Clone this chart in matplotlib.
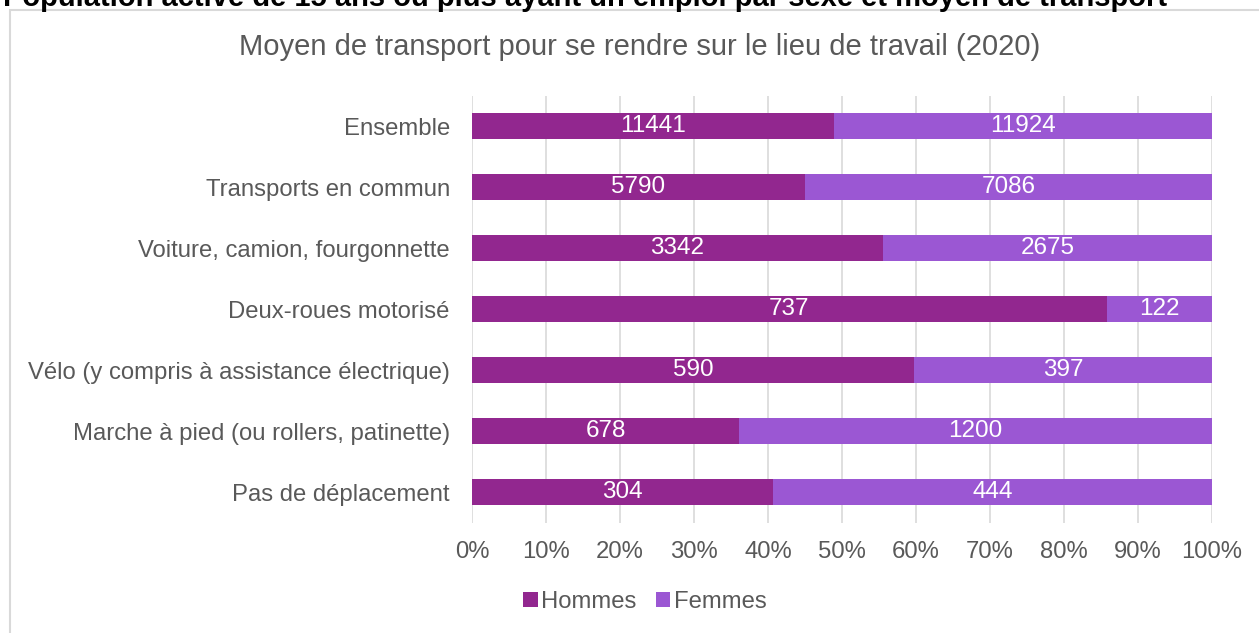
import matplotlib.pyplot as plt
from matplotlib.patches import Rectangle

plt.rcParams['font.family'] = ['Liberation Sans', 'DejaVu Sans']

categories = [
    'Ensemble',
    'Transports en commun',
    'Voiture, camion, fourgonnette',
    'Deux-roues motorisé',
    'Vélo (y compris à assistance électrique)',
    'Marche à pied (ou rollers, patinette)',
    'Pas de déplacement',
]
hommes = [11441, 5790, 3342, 737, 590, 678, 304]
femmes = [11924, 7086, 2675, 122, 397, 1200, 444]

c_hommes = '#92278F'
c_femmes = '#9B57D3'
gris = '#595959'

fig = plt.figure(figsize=(12.59, 6.33), dpi=100)

# cadre du graphique
fig.patches.append(Rectangle((10 / 1259, -0.01), 1.0, 1 - 10 / 633 + 0.01,
                             transform=fig.transFigure, fill=False,
                             edgecolor='#D9D9D9', linewidth=1.5))

fig.text(0.002, 1 - 6 / 633, 'Population active de 15 ans ou plus ayant un emploi par sexe et moyen de transport',
         fontsize=21, fontweight='bold', color='black', ha='left', va='baseline')

fig.text(640 / 1259, 1 - 47 / 633, 'Moyen de transport pour se rendre sur le lieu de travail (2020)',
         fontsize=21, color=gris, ha='center', va='center')

ax = fig.add_axes([472 / 1259, 1 - 522.5 / 633, 740 / 1259, 427 / 633])

y = list(range(len(categories)))
tot = [h + f for h, f in zip(hommes, femmes)]
p_h = [h / t for h, t in zip(hommes, tot)]
p_f = [f / t for f, t in zip(femmes, tot)]

bh = ax.barh(y, p_h, height=0.41, color=c_hommes, label='Hommes', zorder=3)
bf = ax.barh(y, p_f, left=p_h, height=0.41, color=c_femmes, label='Femmes', zorder=3)
ax.bar_label(bh, labels=[str(v) for v in hommes], label_type='center', color='white', fontsize=17.5)
ax.bar_label(bf, labels=[str(v) for v in femmes], label_type='center', color='white', fontsize=17.5)

ax.set_ylim(len(categories) - 0.5, -0.5)
ax.set_xlim(0, 1)
ax.set_yticks(y)
ax.set_yticklabels(categories)
ax.set_xticks([i / 10 for i in range(11)])
ax.set_xticklabels([f'{i * 10}%' for i in range(11)])
ax.tick_params(axis='both', length=0, labelsize=17.2, labelcolor=gris)
ax.tick_params(axis='y', pad=16)
ax.tick_params(axis='x', pad=13)
ax.grid(axis='x', color='#D9D9D9', linewidth=1.2, zorder=0)
for s in ax.spines.values():
    s.set_visible(False)

ax.legend(loc='center', bbox_to_anchor=((645 - 472) / 740, -0.186), ncol=2, frameon=False,
          fontsize=17.2, labelcolor=gris, handlelength=0.6, handleheight=0.6,
          handletextpad=0.15, columnspacing=0.8)

fig.savefig('out.png', dpi=100)
